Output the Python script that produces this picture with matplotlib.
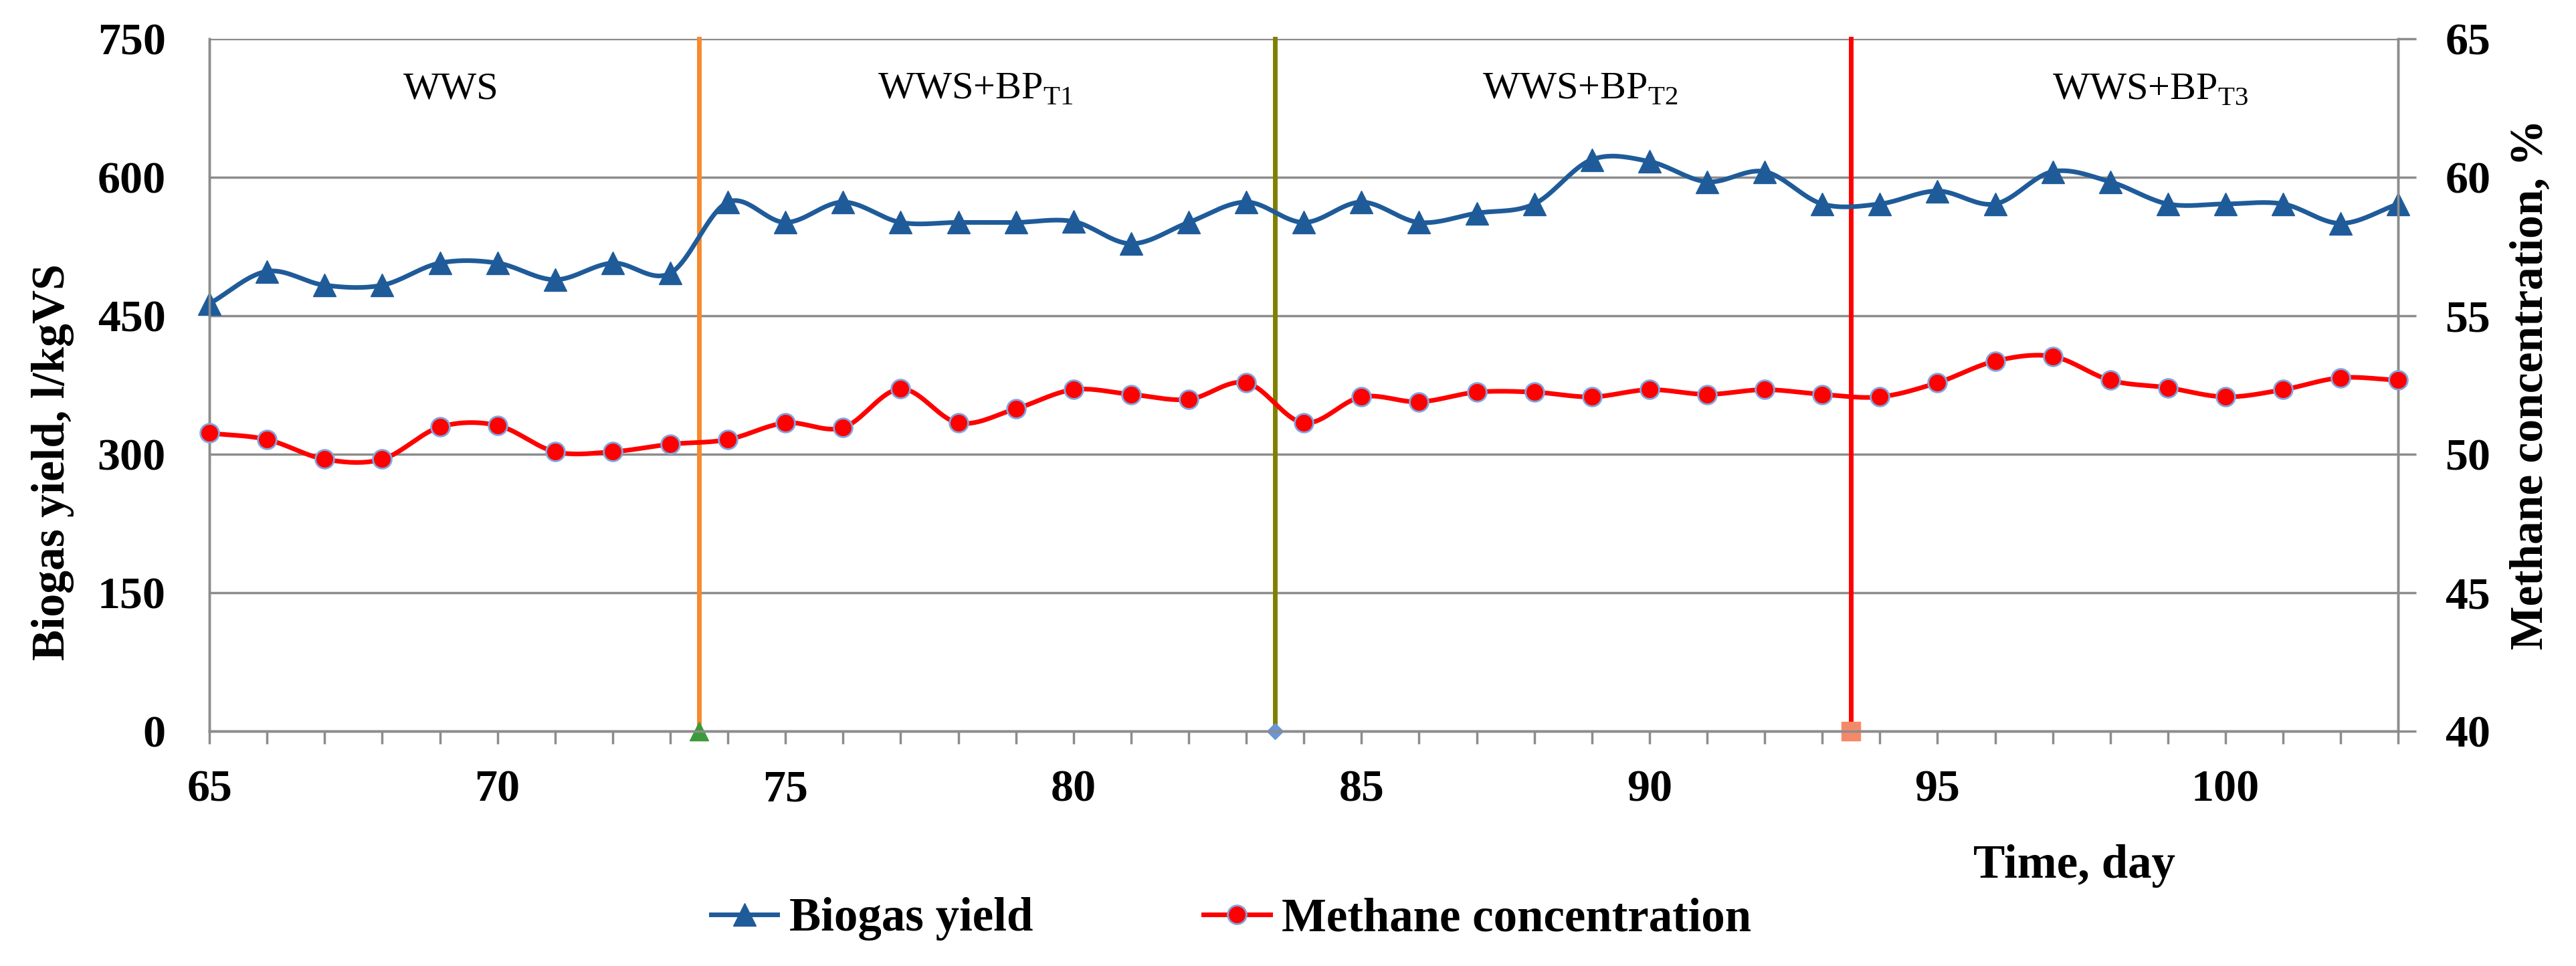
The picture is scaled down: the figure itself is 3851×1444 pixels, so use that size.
import numpy as np
import matplotlib.pyplot as plt
from matplotlib.lines import Line2D

days = list(range(65, 104))
biogas = [463, 498, 483, 483, 507, 507, 489, 507, 496, 573, 551, 573,
          551, 551, 551, 552, 528, 551, 573, 551, 573, 551, 561, 571, 619, 617, 595,
          606, 571, 571, 585, 571, 606, 595, 571, 571, 571, 550, 571]
methane = [50.76, 50.53, 49.82, 49.82, 50.98, 51.04, 50.09, 50.09, 50.36, 50.53, 51.13, 50.96,
           52.36, 51.13, 51.64, 52.33, 52.16, 51.98, 52.58, 51.13, 52.07, 51.89, 52.24, 52.24, 52.07, 52.33, 52.16,
           52.33, 52.16, 52.07, 52.58, 53.36, 53.53, 52.67, 52.4, 52.07, 52.33, 52.76, 52.67]
phase_days = [73.5, 83.5, 93.5]
phase_colors = ['#F58A2E', '#808000', '#FF0000']
phase_marks = [('^', '#3C9A3C'), ('D', '#6A95D6'), ('s', '#F4896A')]
phase_labels = ['WWS', r'WWS+BP$_{\mathrm{T1}}$', r'WWS+BP$_{\mathrm{T2}}$', r'WWS+BP$_{\mathrm{T3}}$']
label_days = [69.2, 78.3, 88.8, 98.7]

plt.rcParams['font.family'] = ['Liberation Serif', 'DejaVu Serif']
plt.rcParams['mathtext.fontset'] = 'custom'
plt.rcParams['mathtext.rm'] = 'Liberation Serif'


def smooth(x, y, n=20):
    # catmull-rom curve through the points, only for drawing the line
    x = np.asarray(x, float)
    y = np.asarray(y, float)
    px = np.concatenate([[2 * x[0] - x[1]], x, [2 * x[-1] - x[-2]]])
    py = np.concatenate([[2 * y[0] - y[1]], y, [2 * y[-1] - y[-2]]])
    xs, ys = [], []
    t = np.linspace(0, 1, n, endpoint=False)
    for i in range(1, len(px) - 2):
        for p, out in ((px, xs), (py, ys)):
            p0, p1, p2, p3 = p[i - 1], p[i], p[i + 1], p[i + 2]
            out.extend(0.5 * (2 * p1 + (-p0 + p2) * t + (2 * p0 - 5 * p1 + 4 * p2 - p3) * t ** 2
                              + (-p0 + 3 * p1 - 3 * p2 + p3) * t ** 3))
    xs.append(x[-1])
    ys.append(y[-1])
    return xs, ys


fig = plt.figure(figsize=(38.51, 14.44), dpi=100)
ax = fig.add_axes([0.0813, 0.243, 0.8497, 0.717])
ax2 = ax.twinx()

blue = '#1F5B99'
red = '#FF0000'

sx, sy = smooth(days, biogas)
ax.plot(sx, sy, color=blue, lw=5, zorder=4)
ax.plot(days, biogas, ls='none', marker='^', ms=24, color=blue, zorder=5, clip_on=False)

mx, my = smooth(days, methane)
ax2.plot(mx, my, color=red, lw=5, zorder=4)
ax2.plot(days, methane, ls='none', marker='o', ms=20, color=red, mec='#7FA6E0', mew=2,
         zorder=5, clip_on=False)

for d, c, (m, mc) in zip(phase_days, phase_colors, phase_marks):
    ax.plot([d, d], [0, 750], color=c, lw=5, zorder=3, clip_on=False)
    ax.plot([d], [0], marker=m, color=mc, ms=20 if m != 'D' else 12, zorder=6, clip_on=False)

for d, t in zip(label_days, phase_labels):
    ax.text(d, 695, t, ha='center', va='center', fontsize=42)

ax.set_xlim(65, 103)
ax.set_ylim(0, 750)
ax2.set_ylim(40, 65)
ax.set_yticks(range(0, 751, 150))
ax2.set_yticks(range(40, 66, 5))
ax.set_xticks(range(65, 101, 5))
ax.set_xticks(days, minor=True)

grey = '#8C8C8C'
ax.grid(axis='y', color=grey, lw=2.5)
ax.set_axisbelow(True)
for a in (ax, ax2):
    for s in a.spines.values():
        s.set_color(grey)
        s.set_linewidth(2.5)
    a.spines['top'].set_visible(False)

ax.tick_params(axis='y', length=0, pad=47, labelsize=49)
ax2.tick_params(axis='y', length=19.5, width=2.5, color=grey, pad=31, labelsize=49)
ax.tick_params(axis='x', which='both', length=14, width=2.5, color=grey, pad=27, labelsize=49)
for lbl in ax.get_yticklabels() + ax2.get_yticklabels() + ax.get_xticklabels():
    lbl.set_fontweight('bold')

fig.text(79 / 3851, 0.5215, 'Biogas yield, l/kgVS', rotation=90, ha='center', va='center',
         fontsize=50, fontweight='bold')
fig.text(3784 / 3851, 0.602, 'Methane concentration, %', rotation=90, ha='center', va='center',
         fontsize=50, fontweight='bold')
fig.text(0.8053, 0.1035, 'Time, day', ha='center', va='center', fontsize=51, fontweight='bold')

handles = [Line2D([], [], color=blue, lw=5, marker='^', ms=24),
           Line2D([], [], color=red, lw=5, marker='o', ms=20, mec='#7FA6E0', mew=2)]
fig.legend(handles, ['Biogas yield', 'Methane concentration'], loc='center', ncol=2,
           bbox_to_anchor=(0.478, 0.0485), frameon=False, handlelength=1.4, handletextpad=0.25,
           columnspacing=3.6, borderpad=0, prop={'size': 51, 'weight': 'bold'})

fig.savefig('out.png', dpi=100)
